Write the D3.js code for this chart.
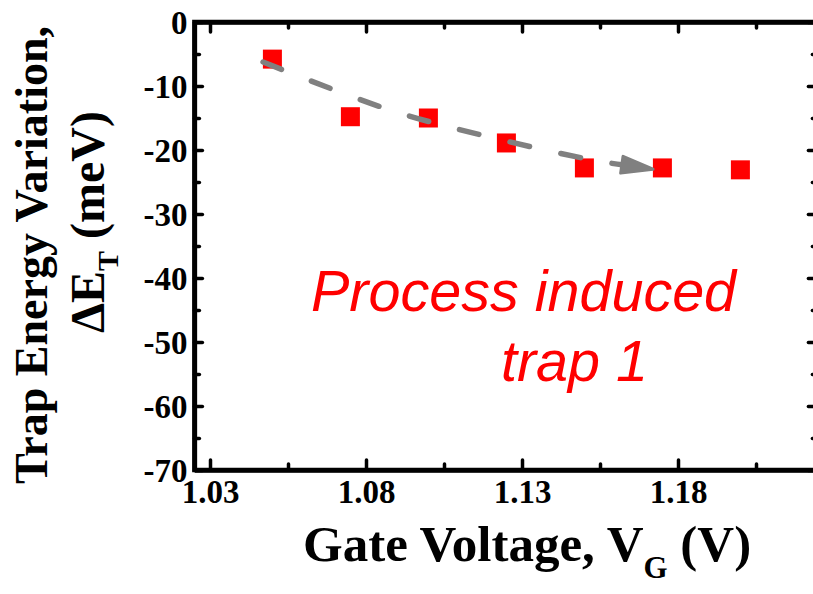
<!DOCTYPE html>
<html>
<head>
<meta charset="utf-8">
<script src="https://cdn.jsdelivr.net/npm/d3@7"></script>
<style>
  html, body { margin: 0; padding: 0; background: #fff; }
  svg { display: block; }
  .tick text { font-family: 'Liberation Serif', 'Times New Roman', serif; font-weight: bold; }
</style>
</head>
<body>
<svg id="chart" width="813" height="594"></svg>
<script>
// ---- data ----
const gateVoltage = [1.05, 1.075, 1.10, 1.125, 1.15, 1.175, 1.20];
const deltaET = [-5.8, -14.8, -15.0, -18.9, -22.8, -22.8, -23.1];
const xMajorTicks = [1.03, 1.08, 1.13, 1.18];
const xMinorTicks = [1.055, 1.105, 1.155, 1.205];
const yMajorTicks = [0, -10, -20, -30, -40, -50, -60, -70];
const yMinorTicks = [-5, -15, -25, -35, -45, -55, -65];
// trend arrow (annotation) path, in data units
const arrowX = [1.047, 1.0877, 1.1207, 1.154, 1.162];
const arrowY = [-6.25, -13.75, -18.1, -21.7, -22.3];
const arrowTip = [1.172, -23.0];
const annotationLines = ["Process induced", "trap 1"];

// ---- layout ----
const svg = d3.select("#chart");
const x = d3.scaleLinear().domain([1.025, 1.225]).range([194.4, 818.4]);
const y = d3.scaleLinear().domain([0, -70]).range([22, 470]);
const pLeft = x.range()[0], pRight = x.range()[1], pTop = y.range()[0], pBottom = y.range()[1];

const serif = "'Liberation Serif', 'Times New Roman', serif";
const sans = "'Liberation Sans', Arial, sans-serif";

function styleAxis(g, showLabels) {
  g.attr("font-family", serif);
  g.select(".domain").attr("stroke", "#000").attr("stroke-width", 4.5);
  g.selectAll(".tick line").attr("stroke", "#000").attr("stroke-width", 3.5).attr("stroke-linecap", "round");
  if (!showLabels) g.selectAll(".tick text").remove();
  g.selectAll(".tick text")
    .attr("font-family", serif).attr("font-weight", "bold").attr("font-size", 33).attr("fill", "#000")
    .style("font-family", serif).style("font-weight", "bold").style("font-size", "33px");
}

// minor ticks
svg.append("g").attr("transform", `translate(0,${pBottom})`)
  .call(d3.axisBottom(x).tickValues(xMinorTicks).tickSize(-6).tickFormat(""))
  .call(g => { styleAxis(g, false); g.select(".domain").remove(); });
svg.append("g").attr("transform", `translate(0,${pTop})`)
  .call(d3.axisTop(x).tickValues(xMinorTicks).tickSize(-6).tickFormat(""))
  .call(g => { styleAxis(g, false); g.select(".domain").remove(); });
svg.append("g").attr("transform", `translate(${pLeft},0)`)
  .call(d3.axisLeft(y).tickValues(yMinorTicks).tickSize(-5).tickFormat(""))
  .call(g => { styleAxis(g, false); g.select(".domain").remove(); });
svg.append("g").attr("transform", `translate(${pRight},0)`)
  .call(d3.axisRight(y).tickValues(yMinorTicks).tickSize(-6).tickFormat(""))
  .call(g => { styleAxis(g, false); g.select(".domain").remove(); });

// major axes
svg.append("g").attr("transform", `translate(0,${pBottom})`)
  .call(d3.axisBottom(x).tickValues(xMajorTicks).tickSizeInner(-10).tickSizeOuter(0).tickPadding(11).tickFormat(d => d.toFixed(2)))
  .call(g => styleAxis(g, true))
  .call(g => g.selectAll(".tick text").attr("dy", "0.68em"));
svg.append("g").attr("transform", `translate(0,${pTop})`)
  .call(d3.axisTop(x).tickValues(xMajorTicks).tickSizeInner(-10).tickSizeOuter(0))
  .call(g => styleAxis(g, false));
svg.append("g").attr("transform", `translate(${pLeft},0)`)
  .call(d3.axisLeft(y).tickValues(yMajorTicks).tickSizeInner(-8).tickSizeOuter(0).tickPadding(7).tickFormat(d => String(d)))
  .call(g => styleAxis(g, true))
  .call(g => g.selectAll(".tick text").attr("dy", "0.34em"));
svg.append("g").attr("transform", `translate(${pRight},0)`)
  .call(d3.axisRight(y).tickValues(yMajorTicks).tickSizeInner(-10).tickSizeOuter(0))
  .call(g => styleAxis(g, false));

// frame
svg.append("rect").attr("x", pLeft).attr("y", pTop).attr("width", pRight - pLeft).attr("height", pBottom - pTop)
  .attr("fill", "none").attr("stroke", "#000").attr("stroke-width", 4.5);

// data squares
const sq = 19;
svg.append("g").selectAll("rect").data(gateVoltage).join("rect")
  .attr("x", (d) => x(d) - sq / 2)
  .attr("y", (d, i) => y(deltaET[i]) - sq / 2)
  .attr("width", sq).attr("height", sq)
  .attr("fill", "#ff0000");

// dashed trend arrow
const pts = arrowX.map((d, i) => [x(d), y(arrowY[i])]);
const line = d3.line().curve(d3.curveCatmullRom.alpha(0.5));
svg.append("path").attr("d", line(pts))
  .attr("fill", "none").attr("stroke", "#808080").attr("stroke-width", 5.5)
  .attr("stroke-linecap", "round").attr("stroke-dasharray", "20,32");
const tip = [x(arrowTip[0]), y(arrowTip[1])];
const base = pts[pts.length - 1];
const ang = Math.atan2(tip[1] - base[1], tip[0] - base[0]);
const hw = 8.5;
const nx = -Math.sin(ang), ny = Math.cos(ang);
const headPts = [
  [base[0] + nx * hw, base[1] + ny * hw],
  [tip[0], tip[1]],
  [base[0] - nx * hw, base[1] - ny * hw]
];
svg.append("path").attr("d", "M" + headPts.map(p => p.join(",")).join("L") + "Z")
  .attr("fill", "#808080").attr("stroke", "#808080").attr("stroke-width", 3).attr("stroke-linejoin", "round");

// annotation text
svg.append("text").attr("x", 311).attr("y", 311)
  .attr("font-family", sans).attr("font-style", "italic").attr("font-size", 57.5).attr("fill", "#ff0000")
  .text(annotationLines[0]);
svg.append("text").attr("x", 501).attr("y", 381)
  .attr("font-family", sans).attr("font-style", "italic").attr("font-size", 57.5).attr("fill", "#ff0000")
  .text(annotationLines[1]);

// x axis title
const xt = svg.append("text").attr("x", 303).attr("y", 561)
  .attr("font-family", serif).attr("font-weight", "bold").attr("font-size", 51).attr("fill", "#000");
xt.append("tspan").text("Gate Voltage, V");
xt.append("tspan").attr("font-size", 31).attr("dy", 17).text("G");
xt.append("tspan").attr("dy", -17).text(" (V)");

// y axis title (two lines)
svg.append("text").attr("transform", "translate(47,26) rotate(-90)")
  .attr("text-anchor", "end")
  .attr("font-family", serif).attr("font-weight", "bold").attr("font-size", 46).attr("fill", "#000")
  .text("Trap Energy Variation,");
const yt = svg.append("text").attr("transform", "translate(104,111) rotate(-90)")
  .attr("text-anchor", "end")
  .attr("font-family", serif).attr("font-weight", "bold").attr("font-size", 48).attr("fill", "#000");
yt.append("tspan").text("\u0394E");
yt.append("tspan").attr("font-size", 30).attr("dy", 14).text("T");
yt.append("tspan").attr("dy", -14).text(" (meV)");
</script>
</body>
</html>
